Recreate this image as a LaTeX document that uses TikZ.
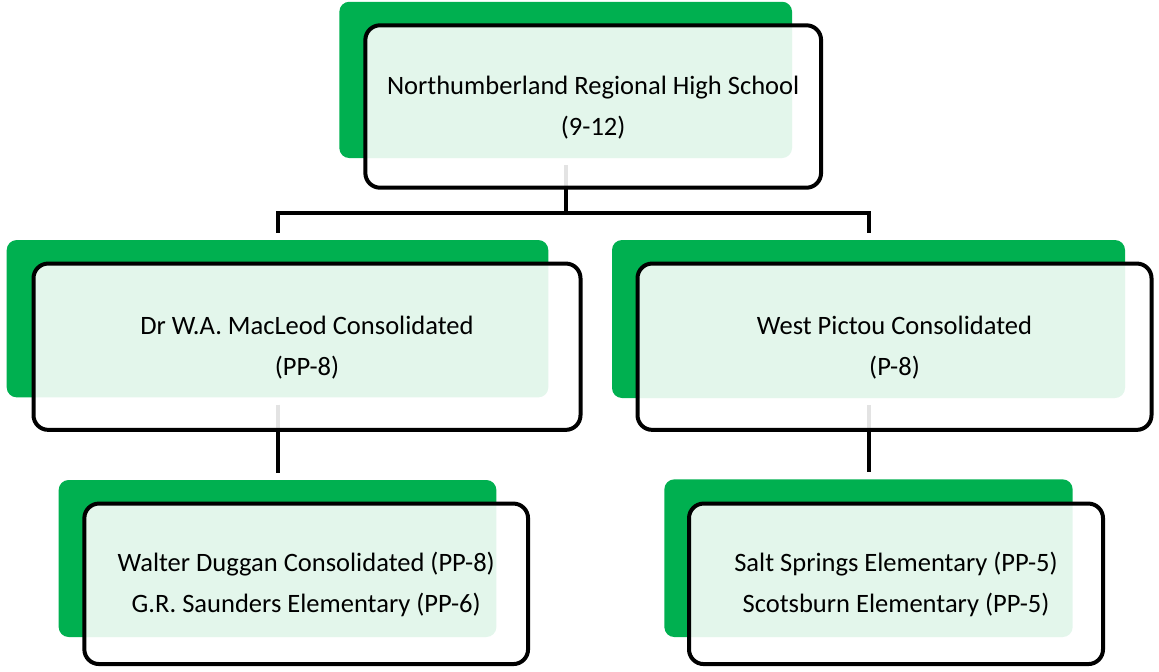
\documentclass[tikz,border=0pt]{standalone}
\usepackage{fontspec}
\setmainfont{Carlito}
\usepackage{tikz}
\definecolor{schoolgreen}{RGB}{0,176,80}
\newdimen\unitpx
\unitpx=0.75pt

\begin{document}
\begin{tikzpicture}[x=0.75pt,y=-0.75pt,
  backbox/.style={fill=schoolgreen,rounded corners=7.5pt,inner sep=0pt},
  frontbox/.style={draw=black,line width=3pt,fill=white,fill opacity=0.89,text opacity=1,
    rounded corners=11pt,align=center,inner sep=0pt,
    font=\fontsize{19.9pt}{30.75pt}\selectfont},
  link/.style={line width=3pt}]
\useasboundingbox (0,0) rectangle (1159,671);
% green boxes behind
\node[backbox,minimum width=452.7\unitpx,minimum height=156.3\unitpx] (gnrhs) at (565.7,79.9) {};
\node[backbox,minimum width=541.6\unitpx,minimum height=157.3\unitpx] (gmacleod) at (277.5,318.7) {};
\node[backbox,minimum width=513\unitpx,minimum height=158\unitpx] (gpictou) at (868.5,319) {};
\node[backbox,minimum width=437.7\unitpx,minimum height=157\unitpx] (gduggan) at (277.5,558.5) {};
\node[backbox,minimum width=408.3\unitpx,minimum height=157.7\unitpx] (gsalt) at (868.5,558.2) {};
% connectors
\coordinate (bar) at (0,212.5);
\draw[link] ([yshift=-5.25pt]gnrhs.south) -- (gnrhs.south |- bar) -| ([yshift=5.25pt]gmacleod.north);
\draw[link] (gnrhs.south |- bar) -| ([yshift=5.25pt]gpictou.north);
\draw[link] ([yshift=-5.25pt]gmacleod.south) -- ([yshift=5.25pt]gduggan.north);
\draw[link] ([yshift=-5.25pt]gpictou.south) -- ([yshift=5.25pt]gsalt.north);
% outlined boxes with text
\node[frontbox,minimum width=455.7\unitpx,minimum height=162.4\unitpx] (nrhs) at (593.2,106.5)
  {\strut Northumberland Regional High School\\(9-12)\strut};
\node[frontbox,minimum width=547\unitpx,minimum height=166.3\unitpx] (macleod) at (307,346.7)
  {\strut Dr W.A. MacLeod Consolidated\\(PP-8)\strut};
\node[frontbox,minimum width=514\unitpx,minimum height=166.3\unitpx] (pictou) at (894.5,346.7)
  {\strut West Pictou Consolidated\\(P-8)\strut};
\node[frontbox,minimum width=443.7\unitpx,minimum height=160.5\unitpx] (duggan) at (306.2,583.8)
  {\strut Walter Duggan Consolidated (PP-8)\\G.R. Saunders Elementary (PP-6)\strut};
\node[frontbox,minimum width=414\unitpx,minimum height=160.5\unitpx] (salt) at (896,583.8)
  {\strut Salt Springs Elementary (PP-5)\\Scotsburn Elementary (PP-5)\strut};
\end{tikzpicture}
\end{document}
